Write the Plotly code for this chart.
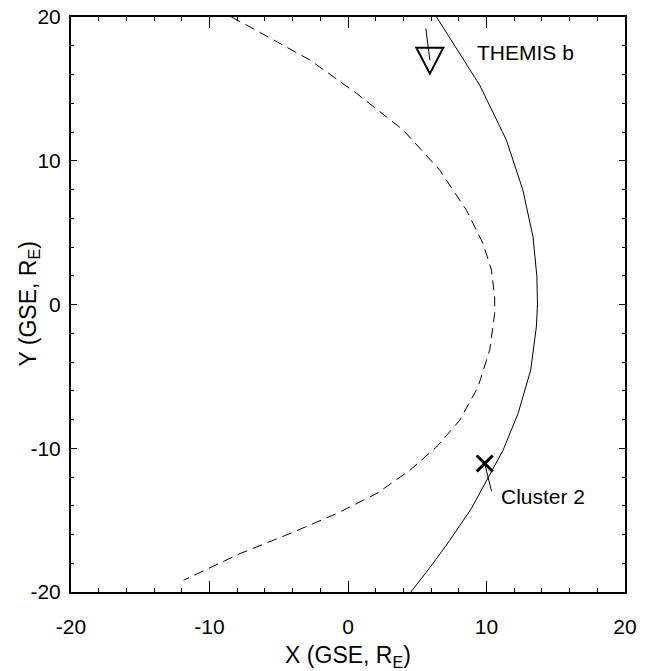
import plotly.graph_objects as go

# Bow shock model (solid)
bs_x = [6.39, 9.51, 11.44, 12.63, 13.36, 13.64, 13.68, 13.60, 13.19, 12.28, 11.20, 10.00, 8.91, 7.35, 6.15, 4.54]
bs_y = [20.0, 15.26, 11.43, 7.95, 4.70, 1.92, 0.0, -1.56, -4.57, -7.58, -10.13, -12.22, -14.19, -16.40, -18.00, -20.0]

# Magnetopause model (dashed)
mp_x = [-8.42, -7.06, -2.74, 0.63, 3.99, 6.63, 8.55, 9.75, 10.36, 10.59, 10.59, 10.23, 9.39, 8.07, 6.39, 4.47, 2.07, -0.81, -4.18, -7.78, -11.87]
mp_y = [20.0, 19.3, 17.0, 14.68, 12.13, 9.34, 6.56, 4.24, 2.39, 0.53, -0.63, -3.18, -5.73, -8.05, -9.91, -11.53, -13.15, -14.54, -15.93, -17.32, -19.18]

# Spacecraft trajectories and positions
themis_tx = [5.62, 5.91]
themis_ty = [19.2, 17.0]
themis_pos = (5.91, 17.0)
cluster_tx = [9.87, 10.36]
cluster_ty = [-11.06, -12.97]
cluster_pos = (9.87, -11.06)

labels = ["THEMIS b", "Cluster 2"]
label_x = [9.15, 10.88]
label_y = [17.55, -13.34]

tick_vals = [-20, -10, 0, 10, 20]
tick_text = ["-20", "-10", "0", "10", "20"]

x_title = "X (GSE, R<sub>E</sub>)"
y_title = "Y (GSE, R<sub>E</sub>)"

FONT = "Arial, Liberation Sans, sans-serif"

fig = go.Figure()
fig.add_trace(go.Scatter(x=mp_x, y=mp_y, mode="lines",
                         line=dict(color="black", width=1, dash="10px,6px"), hoverinfo="skip"))
fig.add_trace(go.Scatter(x=bs_x, y=bs_y, mode="lines",
                         line=dict(color="black", width=1), hoverinfo="skip"))
fig.add_trace(go.Scatter(x=themis_tx, y=themis_ty, mode="lines",
                         line=dict(color="black", width=1), hoverinfo="skip"))
fig.add_trace(go.Scatter(x=cluster_tx, y=cluster_ty, mode="lines",
                         line=dict(color="black", width=1), hoverinfo="skip"))
fig.add_trace(go.Scatter(x=[cluster_pos[0]], y=[cluster_pos[1]], mode="markers",
                         marker=dict(symbol="x-thin-open", size=16, color="black",
                                     line=dict(color="black", width=3)), hoverinfo="skip"))

# THEMIS b open triangle, anchored at its data position
fig.add_shape(type="path", xref="x", yref="y", xsizemode="pixel", ysizemode="pixel",
              xanchor=themis_pos[0], yanchor=themis_pos[1],
              path="M-13.5,12.5 L13.5,12.5 L0,-13.5 Z",
              line=dict(color="black", width=2), fillcolor="rgba(0,0,0,0)")

for t, lx, ly in zip(labels, label_x, label_y):
    fig.add_annotation(x=lx, y=ly, text=t, showarrow=False, xanchor="left", yanchor="middle",
                       font=dict(family=FONT, size=21, color="black"))

# Y axis title as a rotated annotation (placed closer to the tick labels than standoff allows)
fig.add_annotation(xref="paper", yref="paper", x=-0.0757, y=0.5, text=y_title,
                   textangle=-90, showarrow=False, xanchor="center", yanchor="middle",
                   font=dict(family=FONT, size=23, color="black"))

axis_common = dict(range=[-20, 20], tickvals=tick_vals, ticktext=tick_text,
                   ticks="inside", showline=True, linecolor="black", linewidth=2,
                   mirror="allticks", showgrid=False, zeroline=False,
                   tickcolor="black", tickwidth=1,
                   tickfont=dict(family=FONT, size=21, color="black"))

fig.update_xaxes(**axis_common, ticklen=11, ticklabelstandoff=15,
                 minor=dict(dtick=2, ticks="inside", ticklen=4, tickcolor="black", tickwidth=1, showgrid=False),
                 title=dict(text=x_title, standoff=12,
                            font=dict(family=FONT, size=23, color="black")))
fig.update_yaxes(**axis_common, ticklen=6, ticklabelstandoff=4,
                 minor=dict(dtick=2, ticks="inside", ticklen=3, tickcolor="black", tickwidth=1, showgrid=False))

fig.update_layout(width=651, height=671, showlegend=False,
                  margin=dict(l=70.5, r=25.5, t=17, b=79, autoexpand=False),
                  plot_bgcolor="white", paper_bgcolor="white")

fig.write_html("out.html", config={"displayModeBar": False},
               post_script="document.body.style.margin='0px';document.body.style.overflow='hidden';")
